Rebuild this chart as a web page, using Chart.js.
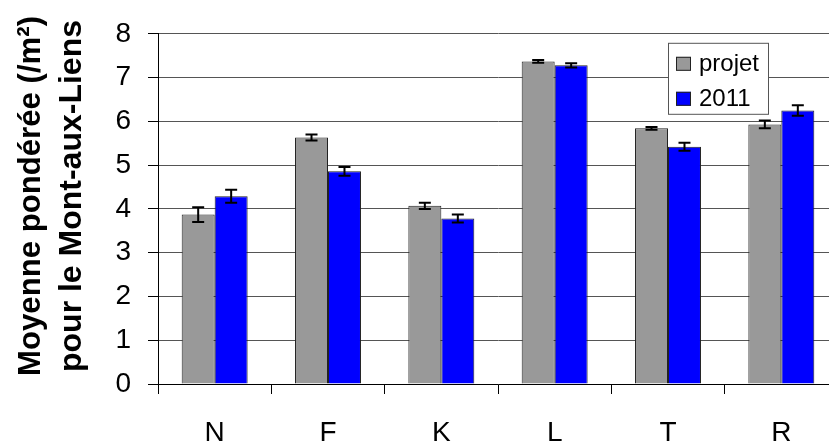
<!DOCTYPE html>
<html lang="fr">
<head>
    <meta charset="UTF-8">
    <title>Moyenne pondérée</title>
    <script src="https://cdn.jsdelivr.net/npm/chart.js"></script>
    <style>
        html, body {
            margin: 0;
            padding: 0;
            overflow: hidden;
            background: #fff;
        }
        #wrap {
            width: 840px;
            height: 444px;
        }
    </style>
</head>
<body>
    <div id="wrap"><canvas id="chart"></canvas></div>
    <script>
        const categories = ['N', 'F', 'K', 'L', 'T', 'R'];
        const projetValues = [3.87, 5.63, 4.07, 7.37, 5.84, 5.93];
        const projetErrors = [0.17, 0.07, 0.07, 0.03, 0.03, 0.09];
        const values2011 = [4.29, 4.86, 3.78, 7.28, 5.42, 6.25];
        const errors2011 = [0.15, 0.10, 0.09, 0.05, 0.09, 0.12];
        const yTicks = [0, 1, 2, 3, 4, 5, 6, 7, 8];
        const yTitle = ['Moyenne pondérée (/m²)', 'pour le Mont-aux-Liens'];

        const FONT = "'Liberation Sans', Arial, sans-serif";

        // error bars drawn on top of each bar
        const errorBars = {
            id: 'errorBars',
            afterDatasetsDraw(chart) {
                const ctx = chart.ctx;
                const y = chart.scales.y;
                ctx.save();
                ctx.strokeStyle = '#000';
                ctx.lineWidth = 2;
                chart.data.datasets.forEach((ds, i) => {
                    const meta = chart.getDatasetMeta(i);
                    meta.data.forEach((bar, j) => {
                        const v = ds.data[j];
                        const e = ds.errors[j];
                        const top = y.getPixelForValue(v + e);
                        const bot = y.getPixelForValue(v - e);
                        ctx.beginPath();
                        ctx.moveTo(bar.x, top);
                        ctx.lineTo(bar.x, bot);
                        ctx.moveTo(bar.x - 6, top);
                        ctx.lineTo(bar.x + 6, top);
                        ctx.moveTo(bar.x - 6, bot);
                        ctx.lineTo(bar.x + 6, bot);
                        ctx.stroke();
                    });
                });
                ctx.restore();
            }
        };

        // boxed legend inside the plot, top right
        const boxLegend = {
            id: 'boxLegend',
            afterDraw(chart) {
                const ctx = chart.ctx;
                const area = chart.chartArea;
                const w = 100, h = 71;
                const x0 = area.right - 70 - w;
                const y0 = area.top + 9;
                ctx.save();
                ctx.fillStyle = '#fff';
                ctx.fillRect(x0, y0, w, h);
                ctx.strokeStyle = '#555';
                ctx.lineWidth = 1;
                ctx.strokeRect(x0 + 0.5, y0 + 0.5, w, h);
                ctx.font = '24px ' + FONT;
                ctx.textBaseline = 'middle';
                chart.data.datasets.forEach((ds, i) => {
                    const cy = y0 + 21 + i * 35;
                    ctx.fillStyle = ds.backgroundColor;
                    ctx.fillRect(x0 + 8, cy - 7, 15, 14);
                    ctx.strokeStyle = '#222';
                    ctx.strokeRect(x0 + 8.5, cy - 6.5, 14, 13);
                    ctx.fillStyle = '#000';
                    ctx.fillText(ds.label, x0 + 31, cy + 1);
                });
                ctx.restore();
            }
        };

        // two-line rotated axis title, a bit above the axis centre like the original
        const axisTitle = {
            id: 'axisTitle',
            afterDraw(chart) {
                const ctx = chart.ctx;
                ctx.save();
                ctx.fillStyle = '#000';
                ctx.font = 'bold 32px ' + FONT;
                ctx.textAlign = 'center';
                ctx.textBaseline = 'alphabetic';
                yTitle.forEach((line, i) => {
                    ctx.save();
                    ctx.translate(40 + i * 41, 196);
                    ctx.rotate(-Math.PI / 2);
                    ctx.fillText(line, 0, 0, 360);
                    ctx.restore();
                });
                ctx.restore();
            }
        };

        new Chart(document.getElementById('chart'), {
            type: 'bar',
            data: {
                labels: categories,
                datasets: [
                    {
                        label: 'projet',
                        data: projetValues,
                        errors: projetErrors,
                        backgroundColor: '#999999',
                        borderColor: '#222',
                        borderWidth: 1
                    },
                    {
                        label: '2011',
                        data: values2011,
                        errors: errors2011,
                        backgroundColor: '#0000ff',
                        borderColor: '#222',
                        borderWidth: 1
                    }
                ]
            },
            options: {
                responsive: true,
                maintainAspectRatio: false,
                animation: false,
                layout: { padding: { top: 28, right: 2, left: 0, bottom: 0 } },
                datasets: {
                    bar: { categoryPercentage: 0.582, barPercentage: 1 }
                },
                plugins: {
                    legend: { display: false },
                    tooltip: { enabled: false }
                },
                scales: {
                    x: {
                        afterFit(scale) { scale.height = 60; },
                        grid: {
                            drawOnChartArea: false,
                            drawTicks: true,
                            tickLength: 10,
                            offset: true,
                            color: '#000'
                        },
                        border: { color: '#000', width: 1 },
                        ticks: {
                            color: '#000',
                            padding: 22,
                            font: { family: FONT, size: 28 }
                        }
                    },
                    y: {
                        min: 0,
                        max: 8,
                        afterFit(scale) { scale.width = 158; },
                        afterBuildTicks(scale) {
                            scale.ticks = yTicks.map(v => ({ value: v }));
                        },
                        grid: {
                            color: '#555',
                            lineWidth: 1,
                            tickLength: 10,
                            tickColor: '#000',
                            tickBorderDash: [],
                            borderDash: [9, 6]
                        },
                        border: { color: '#000', width: 1 },
                        ticks: {
                            color: '#000',
                            padding: 17,
                            font: { family: FONT, size: 28 }
                        }
                    }
                }
            },
            plugins: [errorBars, boxLegend, axisTitle]
        });
    </script>
</body>
</html>
